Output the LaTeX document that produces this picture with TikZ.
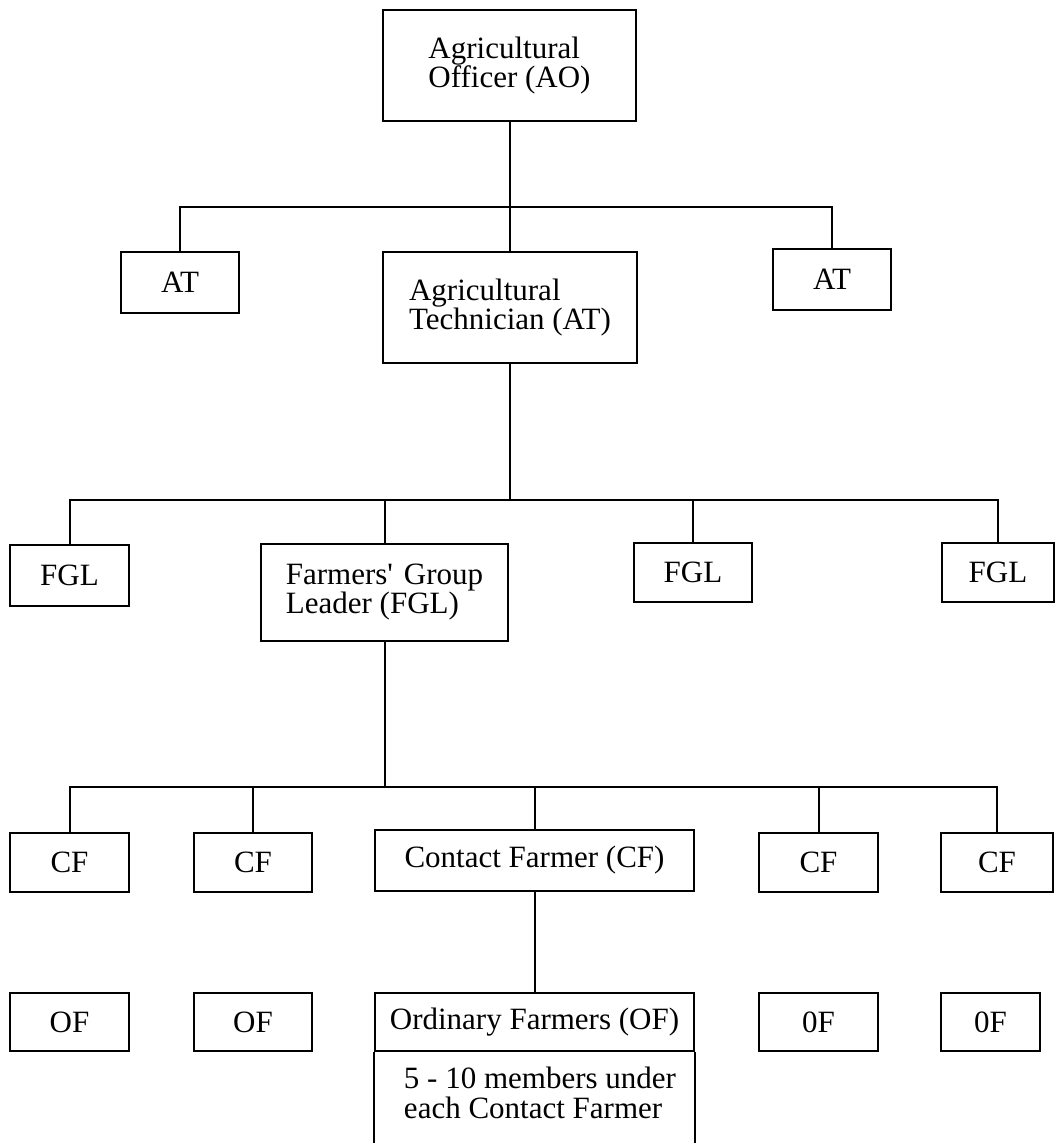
\documentclass[tikz,border=0pt]{standalone}
\usepackage{fontspec}
\setmainfont{Liberation Serif}
\begin{document}
\begin{tikzpicture}[x=1pt,y=-1pt,
  box/.style={draw, line width=2.2pt, inner sep=0pt, align=left,
    font=\fontsize{31}{29}\selectfont},
  txt/.style={inner sep=0pt, align=left, font=\fontsize{31}{30}\selectfont},
  conn/.style={line width=2pt}]
\useasboundingbox (0,0) rectangle (1057,1143);
\fill[white] (0,0) rectangle (1057,1143);
% level 1
\node[box, minimum width=253pt, minimum height=111pt] (ao) at (509.5,65.5) {Agricultural\\Officer (AO)};
% level 2
\node[box, minimum width=118pt, minimum height=61pt] (at1) at (180,282.5) {AT};
\node[box, minimum width=254pt, minimum height=111pt] (atc) at (510,307.5) {Agricultural\\Technician (AT)};
\node[box, minimum width=118pt, minimum height=61pt] (at3) at (832,279.5) {AT};
% level 3
\node[box, minimum width=119pt, minimum height=61pt] (fgl1) at (69.5,575.5) {FGL};
\node[box, minimum width=247pt, minimum height=97pt] (fglc) at (384.5,592.5) {Farmers\textquotesingle\hspace{0.35em}Group\\Leader (FGL)};
\node[box, minimum width=118pt, minimum height=59pt] (fgl3) at (693,572.5) {FGL};
\node[box, minimum width=112pt, minimum height=59pt] (fgl4) at (998,572.5) {FGL};
% level 4
\node[box, minimum width=119pt, minimum height=59pt] (cf1) at (69.5,862.5) {CF};
\node[box, minimum width=118pt, minimum height=59pt] (cf2) at (253,862.5) {CF};
\node[box, minimum width=319pt, minimum height=61pt] (cfc) at (534.5,860.5) {Contact Farmer (CF)};
\node[box, minimum width=119pt, minimum height=59pt] (cf4) at (818.5,862.5) {CF};
\node[box, minimum width=112pt, minimum height=59pt] (cf5) at (997,862.5) {CF};
% level 5
\node[box, minimum width=119pt, minimum height=58pt] (of1) at (69.5,1022) {OF};
\node[box, minimum width=118pt, minimum height=58pt] (of2) at (253,1022) {OF};
\node[box, minimum width=319pt, minimum height=58pt] (ofc) at (534.5,1022) {Ordinary Farmers (OF)};
\node[box, minimum width=119pt, minimum height=58pt] (of4) at (818.5,1022) {0F};
\node[box, minimum width=99pt, minimum height=58pt] (of5) at (990.5,1022) {0F};
\coordinate (ofb) at (534.5,1143);
\draw[line width=2.2pt] (ofc.south west) -- (ofc.south west |- ofb);
\draw[line width=2.2pt] (ofc.south east) -- (ofc.south east |- ofb);
\node[txt] (ofnote) at (540,1093) {5 - 10 members under\\each Contact Farmer};
% connectors
\coordinate (j1) at (509.5,207);
\draw[conn] (ao.south) -- (ao.south |- atc.north);
\draw[conn] (at1.north) |- (j1) -| (at3.north);
\coordinate (j2) at (510,500);
\draw[conn] (atc.south) -- (j2);
\draw[conn] (fgl1.north) |- (j2) -| (fgl4.north);
\draw[conn] (fglc.north) -- (fglc.north |- j2);
\draw[conn] (fgl3.north) -- (fgl3.north |- j2);
\coordinate (j3) at (384.5,787);
\draw[conn] (fglc.south) -- (j3);
\draw[conn] (cf1.north) |- (j3) -| (cf5.north);
\draw[conn] (cf2.north) -- (cf2.north |- j3);
\draw[conn] (cfc.north) -- (cfc.north |- j3);
\draw[conn] (cf4.north) -- (cf4.north |- j3);
\draw[conn] (cfc.south) -- (ofc.north);
\end{tikzpicture}
\end{document}
